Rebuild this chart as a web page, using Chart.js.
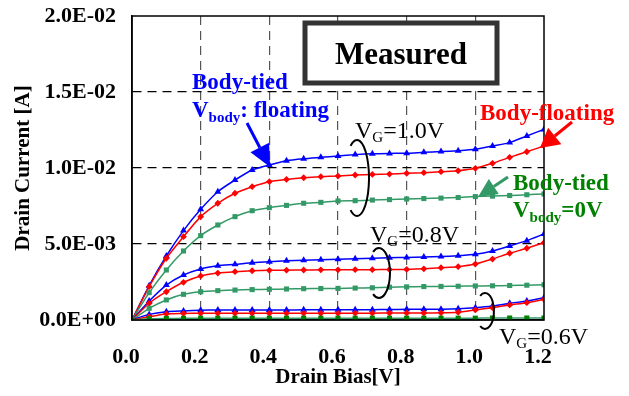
<!DOCTYPE html>
<html>
<head>
<meta charset="utf-8">
<script src="https://cdn.jsdelivr.net/npm/chart.js@4.4.0/dist/chart.umd.min.js"></script>
<style>
  html, body { margin: 0; padding: 0; background: #fff; }
  #wrap { width: 629px; height: 396px; }
</style>
</head>
<body>
<div id="wrap"><canvas id="ivChart" width="629" height="396"></canvas></div>
<script>
// --- DONNEES ---
const drainBias = [0, 0.05, 0.1, 0.15, 0.2, 0.25, 0.3, 0.35, 0.4, 0.45, 0.5, 0.55, 0.6,
  0.65, 0.7, 0.75, 0.8, 0.85, 0.9, 0.95, 1.0, 1.05, 1.1, 1.15, 1.2];

// VG = 1.0 V
const tiedFloat10 = [0, 0.00226, 0.00421, 0.00588, 0.00728, 0.00844, 0.00921, 0.00987, 0.0102, 0.01048, 0.01061, 0.0107, 0.01079,
  0.01088, 0.01094, 0.01096, 0.01097, 0.01103, 0.01108, 0.01114, 0.01123, 0.01145, 0.01167, 0.01211, 0.01254];
const bodyFloat10 = [0, 0.00219, 0.00406, 0.00548, 0.0068, 0.00768, 0.00834, 0.00877, 0.0091, 0.00925, 0.00936, 0.00943, 0.00947,
  0.00954, 0.00958, 0.0096, 0.00965, 0.00969, 0.00976, 0.00982, 0.00998, 0.01031, 0.0107, 0.01107, 0.01145];
const tiedZero10 = [0, 0.0018, 0.00329, 0.00454, 0.00555, 0.00625, 0.0068, 0.00719, 0.00739, 0.00754, 0.00768, 0.00774, 0.00783,
  0.00785, 0.00789, 0.00792, 0.00796, 0.00799, 0.00802, 0.00806, 0.00812, 0.00815, 0.00819, 0.00824, 0.00829];

// VG = 0.8 V
const tiedFloat08 = [0, 0.00125, 0.0023, 0.00296, 0.00336, 0.00357, 0.00366, 0.00377, 0.00384, 0.00389, 0.00393, 0.00396, 0.00399,
  0.00403, 0.00407, 0.0041, 0.00412, 0.00414, 0.00417, 0.00423, 0.00432, 0.00454, 0.00487, 0.00522, 0.00566];
const bodyFloat08 = [0, 0.0011, 0.00186, 0.00248, 0.0029, 0.00309, 0.00318, 0.00324, 0.00327, 0.00328, 0.00329, 0.0033, 0.0033,
  0.00331, 0.00331, 0.00332, 0.00333, 0.00337, 0.00344, 0.00351, 0.00368, 0.00401, 0.00439, 0.00472, 0.00509];
const tiedZero08 = [0, 0.00077, 0.00132, 0.00169, 0.00186, 0.00193, 0.00197, 0.002, 0.00202, 0.00204, 0.00206, 0.00207, 0.00208,
  0.0021, 0.00212, 0.00216, 0.00218, 0.0022, 0.00221, 0.00222, 0.00224, 0.00225, 0.00227, 0.00229, 0.00232];

// VG = 0.6 V
const tiedFloat06 = [0, 0.00037, 0.00055, 0.0006, 0.00064, 0.00066, 0.00066, 0.00066, 0.00066, 0.00066, 0.00067, 0.00067, 0.00067,
  0.00067, 0.00068, 0.00069, 0.0007, 0.0007, 0.00071, 0.00074, 0.00081, 0.00092, 0.0011, 0.00125, 0.00147];
const bodyFloat06 = [0, 0.00022, 0.0004, 0.00043, 0.00044, 0.00044, 0.00044, 0.00044, 0.00044, 0.00044, 0.00044, 0.00044, 0.00044,
  0.00045, 0.00045, 0.00046, 0.00046, 0.00046, 0.00047, 0.00051, 0.00066, 0.00081, 0.00099, 0.00114, 0.00136];
const tiedZero06 = [0, 0.00008, 0.0001, 0.00011, 0.00012, 0.00012, 0.00012, 0.00012, 0.00012, 0.00012, 0.00012, 0.00012, 0.00012,
  0.00012, 0.00012, 0.00012, 0.00012, 0.00012, 0.00012, 0.00012, 0.00012, 0.00013, 0.00013, 0.00013, 0.00013];

const yTicks = ["0.0E+00", "5.0E-03", "1.0E-02", "1.5E-02", "2.0E-02"];
const xTicks = ["0.0", "0.2", "0.4", "0.6", "0.8", "1.0", "1.2"];

const SERIF = "'Liberation Serif', 'Times New Roman', serif";
const BLUE = "#0000ff", RED = "#ff0000", SEA = "#339966", DKGREEN = "#008000";

function serie(values, color, pointColor, style, radius) {
  return {
    data: drainBias.map((x, i) => ({ x: x, y: values[i] })),
    borderColor: color,
    backgroundColor: pointColor,
    pointBorderColor: pointColor,
    pointBackgroundColor: pointColor,
    borderWidth: 1.5,
    pointStyle: style,
    pointRadius: radius,
    pointBorderWidth: 0,
    tension: 0.2
  };
}

const datasets = [
  serie(tiedZero06, SEA, DKGREEN, "rect", 3.6),
  serie(bodyFloat06, RED, RED, "rectRot", 3.4),
  serie(tiedFloat06, BLUE, BLUE, "triangle", 4),
  serie(tiedZero08, SEA, SEA, "rect", 3.6),
  serie(bodyFloat08, RED, RED, "rectRot", 3.4),
  serie(tiedFloat08, BLUE, BLUE, "triangle", 4),
  serie(tiedZero10, SEA, SEA, "rect", 3.6),
  serie(bodyFloat10, RED, RED, "rectRot", 3.4),
  serie(tiedFloat10, BLUE, BLUE, "triangle", 4)
];

// --- ANNOTATIONS ---
function texteRiche(ctx, x, y, parts) {
  let cx = x;
  parts.forEach(p => {
    ctx.font = p.font;
    ctx.fillStyle = p.color;
    ctx.fillText(p.t, cx, y + (p.dy || 0));
    cx += ctx.measureText(p.t).width;
  });
}

function fleche(ctx, x1, y1, x2, y2, color, headLen, headHalf) {
  const a = Math.atan2(y2 - y1, x2 - x1);
  const bx = x2 - headLen * Math.cos(a), by = y2 - headLen * Math.sin(a);
  ctx.save();
  ctx.strokeStyle = color;
  ctx.fillStyle = color;
  ctx.lineWidth = 3;
  ctx.beginPath();
  ctx.moveTo(x1, y1);
  ctx.lineTo(bx, by);
  ctx.stroke();
  ctx.beginPath();
  ctx.moveTo(x2, y2);
  ctx.lineTo(bx + headHalf * Math.sin(a), by - headHalf * Math.cos(a));
  ctx.lineTo(bx - headHalf * Math.sin(a), by + headHalf * Math.cos(a));
  ctx.closePath();
  ctx.fill();
  ctx.restore();
}

function accolade(ctx, cx, cy, rx, ry) {
  ctx.save();
  ctx.strokeStyle = "#000";
  ctx.lineWidth = 2;
  ctx.beginPath();
  ctx.ellipse(cx, cy, rx, ry, 0, -Math.PI * 0.68, Math.PI * 0.68);
  ctx.stroke();
  ctx.restore();
}

const annotations = {
  id: "annotations",
  afterDraw(chart) {
    const ctx = chart.ctx;
    const a = chart.chartArea;
    ctx.save();

    // cadre du graphe
    ctx.strokeStyle = "#000";
    ctx.lineWidth = 1.5;
    ctx.strokeRect(a.left, a.top, a.right - a.left, a.bottom - a.top);

    // encadre "Measured"
    ctx.fillStyle = "#fff";
    ctx.fillRect(305, 23, 192, 60);
    ctx.strokeStyle = "#333";
    ctx.lineWidth = 5;
    ctx.strokeRect(305, 23, 192, 60);
    ctx.fillStyle = "#000";
    ctx.font = "bold 31px " + SERIF;
    ctx.textAlign = "center";
    ctx.textBaseline = "alphabetic";
    ctx.fillText("Measured", 401, 64);
    ctx.textAlign = "left";

    // Body-tied, Vbody: floating (bleu)
    const b23 = "bold 23px " + SERIF, b15 = "bold 15px " + SERIF;
    texteRiche(ctx, 192, 89, [{ t: "Body-tied", font: b23, color: BLUE }]);
    texteRiche(ctx, 192, 117, [
      { t: "V", font: b23, color: BLUE },
      { t: "body", font: b15, color: BLUE, dy: 5 },
      { t: ": floating", font: b23, color: BLUE }
    ]);
    fleche(ctx, 247, 123, 270, 167, BLUE, 22, 10.5);

    // Body-floating (rouge)
    texteRiche(ctx, 480, 120, [{ t: "Body-floating", font: b23, color: RED }]);
    fleche(ctx, 572, 122, 540, 148, RED, 19, 10.5);

    // Body-tied, Vbody=0V (vert)
    texteRiche(ctx, 513, 190, [{ t: "Body-tied", font: b23, color: DKGREEN }]);
    texteRiche(ctx, 513, 217, [
      { t: "V", font: b23, color: DKGREEN },
      { t: "body", font: b15, color: DKGREEN, dy: 5 },
      { t: "=0V", font: b23, color: DKGREEN }
    ]);
    fleche(ctx, 508, 177, 478, 197, SEA, 19, 9);

    // VG labels + accolades
    const n24 = "24px " + SERIF, n15 = "15px " + SERIF;
    texteRiche(ctx, 355, 138, [
      { t: "V", font: n24, color: "#000" }, { t: "G", font: n15, color: "#000", dy: 4 },
      { t: "=1.0V", font: n24, color: "#000" }
    ]);
    accolade(ctx, 357, 178, 12, 38);
    texteRiche(ctx, 370, 242, [
      { t: "V", font: n24, color: "#000" }, { t: "G", font: n15, color: "#000", dy: 4 },
      { t: "=0.8V", font: n24, color: "#000" }
    ]);
    accolade(ctx, 379, 273, 11, 25);
    texteRiche(ctx, 499, 344, [
      { t: "V", font: n24, color: "#000" }, { t: "G", font: n15, color: "#000", dy: 4 },
      { t: "=0.6V", font: n24, color: "#000" }
    ]);
    accolade(ctx, 485, 311, 9, 18);

    ctx.restore();
  }
};

const tickFont = { family: SERIF, size: 22, weight: "bold" };

new Chart(document.getElementById("ivChart"), {
  type: "line",
  data: { datasets: datasets },
  options: {
    responsive: false,
    animation: false,
    events: [],
    layout: { padding: { top: 16, right: 85, left: 11, bottom: 6 } },
    plugins: { legend: { display: false }, tooltip: { enabled: false } },
    scales: {
      x: {
        type: "linear",
        min: 0, max: 1.2,
        afterFit: s => { s.height = 70; s.paddingLeft = 0; s.paddingRight = 0; },
        afterBuildTicks: s => { s.ticks = xTicks.map(v => ({ value: parseFloat(v) })); },
        ticks: {
          color: "#000", font: tickFont, padding: 24, labelOffset: -6, maxRotation: 0,
          callback: (v, i) => xTicks[i]
        },
        grid: {
          drawTicks: false, lineWidth: 1.2,
          color: c => (c.index === 0 || c.index === xTicks.length - 1) ? "transparent" : "#555"
        },
        border: { display: true, color: "#000", width: 1.5, dash: [9, 6] },
        title: {
          display: true, text: "Drain Bias[V]", color: "#000",
          font: { family: SERIF, size: 21, weight: "bold" }, padding: { top: 0, bottom: 0 }
        }
      },
      y: {
        min: 0, max: 0.02,
        afterFit: s => { s.width = 121; s.paddingTop = 0; s.paddingBottom = 0; },
        afterBuildTicks: s => { s.ticks = yTicks.map(v => ({ value: parseFloat(v) })); },
        ticks: {
          color: "#000", font: tickFont, padding: 16,
          callback: (v, i) => yTicks[i]
        },
        grid: {
          drawTicks: false, lineWidth: 1.2,
          color: c => (c.index === 0 || c.index === yTicks.length - 1) ? "transparent" : "#000"
        },
        border: { display: true, color: "#000", width: 1.5, dash: [9, 6] },
        title: {
          display: true, text: "Drain Current [A]", color: "#000",
          font: { family: SERIF, size: 21, weight: "bold" }, padding: { top: 0, bottom: 4 }
        }
      }
    }
  },
  plugins: [annotations]
});
</script>
</body>
</html>
